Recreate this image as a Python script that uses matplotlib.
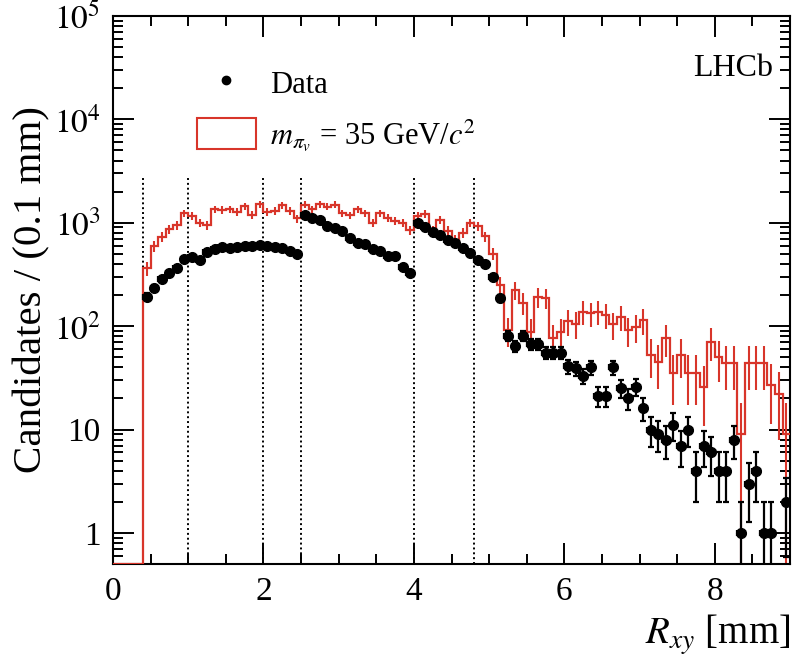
import numpy as np
import matplotlib
matplotlib.use('Agg')
import matplotlib.pyplot as plt
from matplotlib.lines import Line2D
from matplotlib.patches import Patch
from matplotlib.ticker import FixedLocator, LogLocator, MultipleLocator, NullFormatter

plt.rcParams['font.family'] = ['Liberation Serif', 'DejaVu Serif']
plt.rcParams['mathtext.fontset'] = 'stix'

# 0.1 mm bins from 0 to 9 mm
bin_lo = 0.0
bin_hi = 9.0
bin_width = 0.1

# Data counts per bin (bins 0.0-0.1 ... 8.9-9.0)
data_counts = [
    0, 0, 0, 0,
    193, 232, 284, 325, 363, 446, 464, 437, 526, 554, 587, 567, 587, 597, 597,
    610, 597, 587, 567, 537, 499,
    1190, 1100, 1060, 930, 880, 840, 720, 640, 625, 555, 535, 475, 475, 370, 325,
    990, 905, 820, 762, 682, 643, 567, 507, 437, 399,
    297, 186, 80, 64, 81, 67, 67, 55, 55, 55, 41, 39, 33, 40, 21, 21, 40, 25, 20, 26,
    16, 10, 9, 8, 11, 7, 10, 4, 7,
    6, 4, 4, 8, 1, 3, 4, 1, 1, 0, 2,
]

# Signal simulation, m_pi_v = 35 GeV/c^2 (weighted)
signal_counts = [
    0, 0, 0, 0,
    363, 597, 734, 865, 952, 1235, 1163, 1001, 952, 1350, 1330, 1350, 1280, 1450,
    1200, 1520, 1280, 1300, 1480, 1300, 1100,
    1490, 1350, 1510, 1430, 1490, 1230, 1180, 1350, 1230, 1000, 1230, 1110, 1050, 1000, 850,
    1160, 1210, 850, 1060, 840, 680, 800, 1000, 920, 740,
    500, 250, 92, 225, 168, 88, 190, 186, 77, 88, 112, 106, 138, 133, 138, 128, 104, 122, 92, 98,
    115, 53, 45, 76, 35, 53, 35, 35, 26,
    71, 50, 44, 44, 9, 44, 44, 44, 27, 22, 9,
]
signal_weight = 9.0  # per-event weight of the simulated sample

# Material boundaries (dotted lines)
boundaries = [0.4, 1.0, 2.0, 2.5, 4.0, 4.8]
boundary_top = 2800

y_min, y_max = 0.5, 1e5
red = '#d8352a'

n_bins = int(round((bin_hi - bin_lo) / bin_width))
edges = bin_lo + bin_width * np.arange(n_bins + 1)
centers = 0.5 * (edges[:-1] + edges[1:])
data = np.array(data_counts, dtype=float)
sig = np.array(signal_counts, dtype=float)

fig = plt.figure(figsize=(7.96, 6.64), dpi=100)
ax = fig.add_axes([0.142, 0.1506, 0.8505, 0.8253])

# dotted boundary lines
for b in boundaries:
    ax.plot([b, b], [y_min, boundary_top], color='black', linestyle=(0, (1, 1.5)),
            linewidth=1.4, zorder=1)

# signal histogram: step outline and MC errors
sig_draw = np.where(sig > 0, sig, y_min)
ax.stairs(sig_draw, edges, color=red, linewidth=1.6, baseline=None, zorder=2.6)
sig_err = np.sqrt(signal_weight * sig)
has_sig = sig > 0
ax.vlines(centers[has_sig], np.maximum(sig[has_sig] - sig_err[has_sig], y_min * 0.5),
          sig[has_sig] + sig_err[has_sig], color=red, linewidth=1.5, zorder=2)

# data points with Poisson errors
has_data = data > 0
ax.errorbar(centers[has_data], data[has_data], yerr=np.sqrt(data[has_data]),
            xerr=bin_width / 2, fmt='o', color='black', markersize=7,
            elinewidth=1.6, capsize=2, capthick=1.6, zorder=3)

ax.set_yscale('log')
ax.set_xlim(bin_lo, bin_hi)
ax.set_ylim(y_min, y_max)

ax.xaxis.set_major_locator(FixedLocator([0, 2, 4, 6, 8]))
ax.xaxis.set_minor_locator(MultipleLocator(0.5))
ax.yaxis.set_major_locator(FixedLocator([1, 10, 100, 1e3, 1e4, 1e5]))
ax.yaxis.set_minor_locator(LogLocator(base=10, subs=np.arange(2, 10)))
ax.yaxis.set_minor_formatter(NullFormatter())
ax.set_yticklabels(['1', '10', r'$10^2$', r'$10^3$', r'$10^4$', r'$10^5$'])

ax.tick_params(which='both', direction='in', top=True, right=True, labelsize=24)
ax.tick_params(which='major', length=15, width=1.4, pad=9)
ax.tick_params(which='minor', length=7.5, width=1.4)
for s in ax.spines.values():
    s.set_linewidth(1.5)

ax.set_ylabel('Candidates / (0.1 mm)', fontsize=29.5, labelpad=2)
ax.set_xlabel(r'$R_{xy}$ [mm]', fontsize=28, loc='right', labelpad=4)

ax.text(0.975, 0.905, 'LHCb', transform=ax.transAxes, ha='right', va='center', fontsize=23)

handles = [
    Line2D([], [], marker='o', color='black', linestyle='none', markersize=6),
    Patch(facecolor='none', edgecolor=red, linewidth=1.5),
]
labels = ['Data', r'$m_{\pi_v}$ = 35 GeV/$c^2$']
ax.legend(handles, labels, loc='upper left', bbox_to_anchor=(0.124, 0.906), frameon=False,
          borderpad=0, borderaxespad=0, fontsize=22, handlelength=1.93, handleheight=1.18,
          handletextpad=0.45, labelspacing=0.55)

fig.savefig('out.png', dpi=100)
